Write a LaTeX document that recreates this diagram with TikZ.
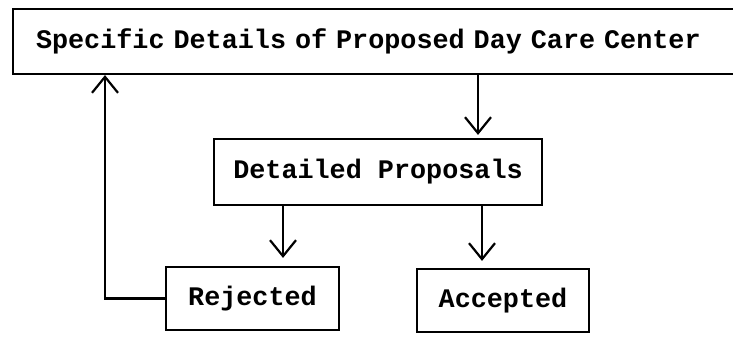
\documentclass[tikz,border=0pt]{standalone}
\usepackage{fontspec}
\setmonofont{Liberation Mono}
\usetikzlibrary{arrows.meta}
\newcommand{\tw}{\ttfamily\bfseries\fontsize{26.8}{30}\selectfont\spaceskip=0.6em\relax}
\begin{document}
\begin{tikzpicture}[x=1pt,y=-1pt,
  box/.style={draw, line width=2.2pt, rectangle, inner sep=0pt, font=\tw},
  arr/.style={line width=2.2pt, -{Straight Barb[length=16pt,width=26pt,line width=2.2pt]}}]
\useasboundingbox (0,0) rectangle (733,337);
\node[box, minimum width=757pt, minimum height=65pt, text width=711pt, inner xsep=23pt, align=left] (top) at (391.5,41.5) {Specific Details of Proposed Day Care Center};
\node[box, minimum width=328pt, minimum height=66pt] (dp) at (378,172) {Detailed Proposals};
\node[box, minimum width=173pt, minimum height=63pt] (rej) at (252.5,298.5) {Rejected};
\node[box, minimum width=172pt, minimum height=63pt] (acc) at (503,300.5) {Accepted};
\coordinate (c1) at (478,0);
\coordinate (c2) at (283,0);
\coordinate (c3) at (482,0);
\coordinate (c4) at (105,0);
\draw[arr, shorten >=3pt] (top.south -| c1) -- (dp.north -| c1);
\draw[arr, shorten >=8pt] (dp.south -| c2) -- (rej.north -| c2);
\draw[arr, shorten >=7pt] (dp.south -| c3) -- (acc.north -| c3);
\draw[arr] (rej.west) -| (top.south -| c4);
\end{tikzpicture}
\end{document}
